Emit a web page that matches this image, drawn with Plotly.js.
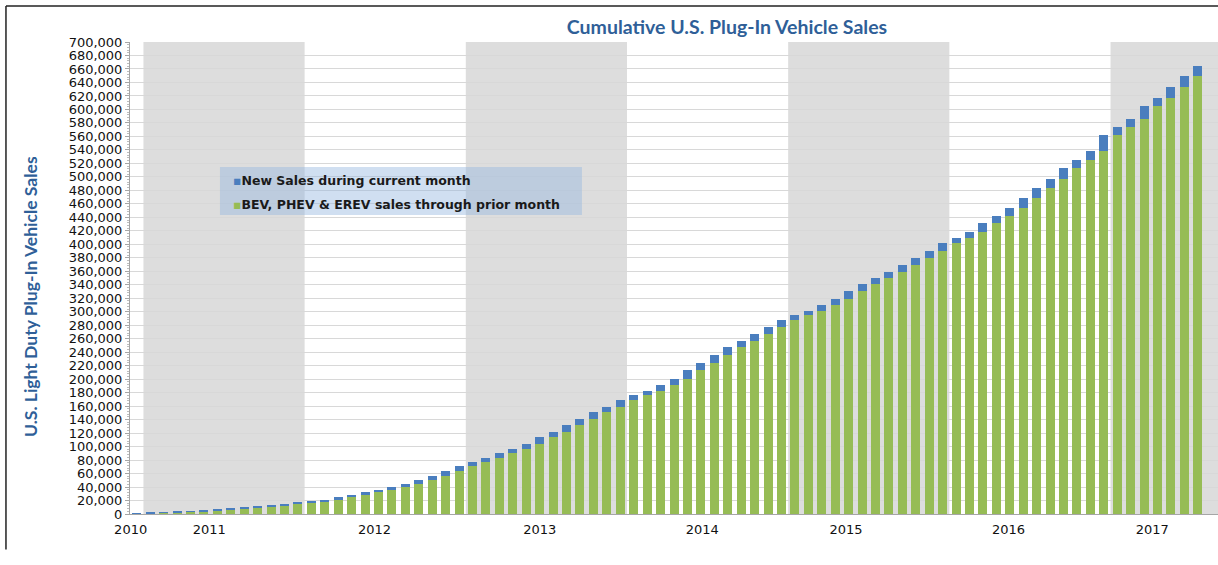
<!DOCTYPE html>
<html>
<head>
<meta charset="utf-8">
<script src="https://cdn.plot.ly/plotly-3.0.1.min.js"></script>
<style>
html,body{margin:0;padding:0;background:#ffffff;}
#chart{width:1218px;height:565px;}
</style>
</head>
<body>
<div id="chart"></div>
<script>
// Month categories (Dec 2010 .. Jul 2017)
const months = [
  'Dec 2010',
  'Jan 2011','Feb 2011','Mar 2011','Apr 2011','May 2011','Jun 2011','Jul 2011','Aug 2011','Sep 2011','Oct 2011','Nov 2011','Dec 2011',
  'Jan 2012','Feb 2012','Mar 2012','Apr 2012','May 2012','Jun 2012','Jul 2012','Aug 2012','Sep 2012','Oct 2012','Nov 2012','Dec 2012',
  'Jan 2013','Feb 2013','Mar 2013','Apr 2013','May 2013','Jun 2013','Jul 2013','Aug 2013','Sep 2013','Oct 2013','Nov 2013','Dec 2013',
  'Jan 2014','Feb 2014','Mar 2014','Apr 2014','May 2014','Jun 2014','Jul 2014','Aug 2014','Sep 2014','Oct 2014','Nov 2014','Dec 2014',
  'Jan 2015','Feb 2015','Mar 2015','Apr 2015','May 2015','Jun 2015','Jul 2015','Aug 2015','Sep 2015','Oct 2015','Nov 2015','Dec 2015',
  'Jan 2016','Feb 2016','Mar 2016','Apr 2016','May 2016','Jun 2016','Jul 2016','Aug 2016','Sep 2016','Oct 2016','Nov 2016','Dec 2016',
  'Jan 2017','Feb 2017','Mar 2017','Apr 2017','May 2017','Jun 2017','Jul 2017'
];

// BEV, PHEV & EREV sales through prior month (green)
const priorMonth = [
  0,
  800, 1500, 2100, 3000, 3800, 5000, 6400, 7600, 9200, 11000, 12800, 14600,
  17600, 18800, 20600, 24600, 28400, 32600, 36200, 39600, 44800, 50600, 56200, 64400,
  71800, 77000, 83000, 90000, 97000, 104000, 113800, 121400, 132200, 140600, 151000, 159400,
  169000, 176400, 182800, 191200, 200200, 213000, 224000, 236000, 247600, 257000, 267000, 276600,
  288200, 294800, 301200, 310600, 319200, 330400, 340400, 349800, 359200, 368600, 379400, 389600,
  402200, 409200, 417600, 431000, 441800, 453800, 468600, 483000, 497400, 513600, 524600, 539000,
  562200, 574200, 586000, 604400, 616400, 633600, 649600
];

// New sales during current month (blue)
const newSales = [
  800,
  700, 600, 900, 800, 1200, 1400, 1200, 1600, 1800, 1800, 1800, 3000,
  1200, 1800, 4000, 3800, 4200, 3600, 3400, 5200, 5800, 5600, 8200, 7400,
  5200, 6000, 7000, 7000, 7000, 9800, 7600, 10800, 8400, 10400, 8400, 9600,
  7400, 6400, 8400, 9000, 12800, 11000, 12000, 11600, 9400, 10000, 9600, 11600,
  6600, 6400, 9400, 8600, 11200, 10000, 9400, 9400, 9400, 10800, 10200, 12600,
  7000, 8400, 13400, 10800, 12000, 14800, 14400, 14400, 16200, 11000, 14400, 23200,
  12000, 11800, 18400, 12000, 17200, 16000, 15200
];

// X-axis year labels and where they sit along the month axis
const yearLabels = ['2010','2011','2012','2013','2014','2015','2016','2017'];
const yearLabelPos = [-0.45, 5.4, 17.7, 30.0, 42.1, 52.8, 64.9, 75.6];
// Years with shaded background
const shadedYears = ['2011','2013','2015','2017'];

const seriesNames = ['BEV, PHEV & EREV sales through prior month', 'New Sales during current month'];
const GREEN = '#96BC55';
const BLUE = '#4A7EBE';
const TITLE_BLUE = '#2F5F98';

const xIdx = months.map((m, i) => i);
const X_MIN = -0.5, X_MAX = 80.5;

const traces = [
  {
    type: 'bar', name: seriesNames[0], x: xIdx, y: priorMonth,
    text: months, hovertemplate: '%{text}<br>%{y:,}<extra>' + seriesNames[0] + '</extra>',
    textposition: 'none',
    marker: {color: GREEN, line: {width: 0}}, showlegend: false
  },
  {
    type: 'bar', name: seriesNames[1], x: xIdx, y: newSales,
    text: months, hovertemplate: '%{text}<br>%{y:,}<extra>' + seriesNames[1] + '</extra>',
    textposition: 'none',
    marker: {color: BLUE, line: {width: 0}}, showlegend: false
  }
];

const shapes = [];
shadedYears.forEach(yr => {
  const idx = months.map((m, i) => m.endsWith(yr) ? i : -1).filter(i => i >= 0);
  const x0 = idx[0] - 0.5;
  let x1 = idx[idx.length - 1] + 0.5;
  if (yr === shadedYears[shadedYears.length - 1]) x1 = X_MAX;
  shapes.push({type: 'rect', xref: 'x', yref: 'paper', x0: x0, x1: x1, y0: 0, y1: 1,
    fillcolor: '#dddddd', line: {width: 0}, layer: 'below'});
});
// legend box
shapes.push({type: 'rect', xref: 'paper', yref: 'paper', x0: 0.0827, x1: 0.4154, y0: 0.6335, y1: 0.7352,
  fillcolor: 'rgba(150,185,225,0.45)', line: {width: 0}, layer: 'above'});
// outer frame (top and left)
shapes.push({type: 'line', xref: 'paper', yref: 'paper', x0: -0.1140, x1: 1.01, y0: 1.0763, y1: 1.0763,
  line: {color: '#222222', width: 1.5}});
shapes.push({type: 'line', xref: 'paper', yref: 'paper', x0: -0.1140, x1: -0.1140, y0: 1.0763, y1: -0.075,
  line: {color: '#222222', width: 1.5}});

const tickFont = {family: 'DejaVu Sans, Verdana, sans-serif', size: 13, color: '#111111'};
const legFont = {family: 'DejaVu Sans, Verdana, sans-serif', size: 12.5, color: '#1a1a1a', weight: 'bold'};

const annotations = [
  {xref: 'paper', yref: 'paper', x: -0.0919, y: 0.4597, xanchor: 'center', yanchor: 'middle',
   textangle: -90, showarrow: false, text: 'U.S. Light Duty Plug-In Vehicle Sales',
   font: {family: 'Lato, Open Sans, sans-serif', size: 17.5, color: TITLE_BLUE, weight: 'bold'}},
  {xref: 'paper', yref: 'paper', x: 0.0925, y: 0.7076, xanchor: 'left', yanchor: 'middle', showarrow: false,
   text: '<span style="color:' + BLUE + '">▪</span>' + seriesNames[1], font: legFont},
  {xref: 'paper', yref: 'paper', x: 0.0925, y: 0.6547, xanchor: 'left', yanchor: 'middle', showarrow: false,
   text: '<span style="color:' + GREEN + '">▪</span>' + seriesNames[0], font: legFont}
];

const layout = {
  width: 1218, height: 565,
  margin: {l: 130, r: 0, t: 42, b: 51, pad: 0},
  paper_bgcolor: '#ffffff', plot_bgcolor: '#ffffff',
  barmode: 'stack', bargap: 0.33,
  showlegend: false,
  title: {text: 'Cumulative U.S. Plug-In Vehicle Sales', xref: 'paper', x: 0.5487, xanchor: 'center',
          yref: 'container', y: 0.952, yanchor: 'middle',
          font: {family: 'Lato, Open Sans, sans-serif', size: 19.5, color: TITLE_BLUE, weight: 'bold'}},
  xaxis: {
    range: [X_MIN, X_MAX], showgrid: false, zeroline: false,
    showline: true, linecolor: '#a6a6a6', linewidth: 1,
    tickmode: 'array', tickvals: yearLabelPos, ticktext: yearLabels,
    ticks: '', tickfont: tickFont, ticklabelstandoff: 3, fixedrange: true
  },
  yaxis: {
    range: [0, 700000], dtick: 20000, tick0: 0, tickformat: ',d',
    showgrid: true, gridcolor: '#d8d8d8', gridwidth: 1, zeroline: false,
    showline: true, linecolor: '#a6a6a6', linewidth: 1,
    ticks: 'outside', ticklen: 4, tickcolor: '#a6a6a6', tickfont: tickFont,
    minor: {ticks: 'outside', ticklen: 2, dtick: 4000, tickcolor: '#bdbdbd', showgrid: false},
    fixedrange: true
  },
  shapes: shapes,
  annotations: annotations
};

Plotly.newPlot('chart', traces, layout, {displayModeBar: false, staticPlot: false});
</script>
</body>
</html>
